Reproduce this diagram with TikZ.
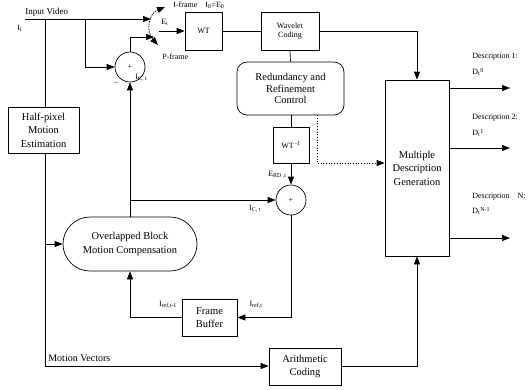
\documentclass[tikz,border=0pt]{standalone}
\usepackage{fontspec}
\setmainfont{Liberation Serif}
\usetikzlibrary{arrows.meta}

\newcommand{\lblfont}{\fontsize{8}{9.5}\selectfont}
\newcommand{\blkfont}{\fontsize{10.5}{13.5}\selectfont}

\begin{document}
\begin{tikzpicture}[x=1pt, y=-1pt, line width=0.7pt,
    >={Triangle[length=8pt,width=6pt]},
    blk/.style={draw, rectangle, align=center, inner sep=1pt, font=\blkfont},
    sm/.style={draw, rectangle, align=center, inner sep=1pt, font=\lblfont},
    adder/.style={draw, circle, minimum size=30pt, inner sep=0pt, font=\lblfont},
    lbl/.style={inner sep=0pt, font=\lblfont}]
\useasboundingbox (0,0) rectangle (530,389);

% blocks
\node [blk, minimum width=71pt, minimum height=46pt] (hpme) at (43.5,130) {Half-pixel\\Motion\\Estimation};
\node [adder] (sum1) at (130,67) {+};
\node [sm, minimum width=37pt, minimum height=38pt] (wt) at (203.5,31) {WT};
\node [sm, minimum width=58pt, minimum height=38pt] (wc) at (290,31) {Wavelet\\Coding};
\node [blk, font=\fontsize{10.5}{11.8}\selectfont, rounded corners=10pt, minimum width=107pt, minimum height=53pt] (rrc) at (290.5,88.5) {Redundancy and\\Refinement\\Control};
\node [sm, minimum width=36pt, minimum height=36pt] (wti) at (291,145) {WT\textsuperscript{ -1}};
\node [adder] (sum2) at (291,200) {+};
\node [blk, minimum width=64pt, minimum height=176pt] (mdg) at (417,168) {Multiple\\Description\\Generation};
\node [blk, rounded corners=27pt, minimum width=134pt, minimum height=54pt] (obmc) at (130,244) {Overlapped Block\\Motion Compensation};
\node [blk, minimum width=55pt, minimum height=37pt] (fb) at (209.5,317.5) {Frame\\Buffer};
\node [blk, minimum width=72pt, minimum height=37pt] (ac) at (305,366.5) {Arithmetic\\Coding};

% points
\coordinate (vin) at (25,19);
\coordinate (mvtop) at (45,19);
\coordinate (sub) at (85,19);
\coordinate (iend) at (151,19);
\coordinate (pend) at (154,37);
\coordinate (etin) at (159,31);
\coordinate (swp) at (158,45);
\coordinate (swi) at (165,7);
\coordinate (dot) at (317,163);
\coordinate (icb) at (130,200);
\coordinate (mvb) at (45,366);
\coordinate (d1) at (510,88);
\coordinate (d2) at (510,148);
\coordinate (dn) at (510,238);

% connectors
\draw [->] (vin) -- (iend);
\draw (mvtop) -- (mvtop |- hpme.north);
\draw [->] (mvtop |- hpme.south) -- (mvb) -- (mvb -| ac.west);
\draw [->] (mvtop |- obmc.west) -- (obmc.west);
\draw [->] (sub) -- (sub |- sum1.west) -- (sum1.west);
\draw [->] (sum1.north) -- (sum1.north |- pend) -- (pend);
\draw [dash pattern=on 1.5pt off 1pt, <->] (swp) .. controls (146,32) and (148,14) .. (swi);
\draw [->] (etin) -- (wt.west);
\draw (wt.east) -- (wc.west);
\draw [->] (wc.east) -| (mdg.north);
\draw (wc.south) -- (rrc.north);
\draw (wti.north |- rrc.south) -- (wti.north);
\draw [->] (wti.south) -- (sum2.north);
\draw [dotted, ->] (dot |- rrc.south) -- (dot) -- (dot -| mdg.west);
\draw [->] (obmc.north) -- (sum1.south);
\draw [->] (icb) -- (sum2.west);
\draw [->] (sum2.south) |- (fb.east);
\draw [->] (fb.west) -| (obmc.south);
\draw [->] (ac.east) -| (mdg.south);
\foreach \d in {d1,d2,dn}
  \draw [->] (mdg.east |- \d) -- (\d);

% labels
\node [lbl, font=\fontsize{9}{10}\selectfont, anchor=west] (invid) at (25,12) {Input Video};
\node [lbl, anchor=west] (it) at (17,28) {I\textsubscript{t}};
\node [lbl] (minus) at (116,83) {--};
\node [lbl, anchor=west] (ict1) at (135,78) {I\textsubscript{C, t}};
\node [lbl, anchor=west] (ifr) at (173,5) {I-frame\quad I\textsubscript{0}=E\textsubscript{0}};
\node [lbl, anchor=west] (et) at (161,22) {E\textsubscript{t}};
\node [lbl, anchor=west] (pfr) at (162,57) {P-frame};
\node [lbl, anchor=east] (erd) at (287,175) {E\textsubscript{RD ,t}};
\node [lbl] (ict2) at (255,209) {I\textsubscript{C, t}};
\node [lbl] (ref1) at (168,305) {I\textsubscript{ref,t-1}};
\node [lbl] (ref0) at (256,305) {I\textsubscript{ref,t}};
\node [lbl, font=\fontsize{10}{11}\selectfont, anchor=west] (mvlab) at (48,358) {Motion Vectors};
\node [lbl, anchor=west] (ds1) at (472,57) {Description 1:};
\node [lbl, anchor=west] (dd1) at (472,72) {D\textsubscript{t}\textsuperscript{0}};
\node [lbl, anchor=west] (ds2) at (472,118) {Description 2:};
\node [lbl, anchor=west] (dd2) at (472,133) {D\textsubscript{t}\textsuperscript{1}};
\node [lbl, anchor=west] (dsn) at (472,197) {Description\quad N:};
\node [lbl, anchor=west] (ddn) at (472,211) {D\textsubscript{t}\textsuperscript{N-1}};
\end{tikzpicture}
\end{document}
